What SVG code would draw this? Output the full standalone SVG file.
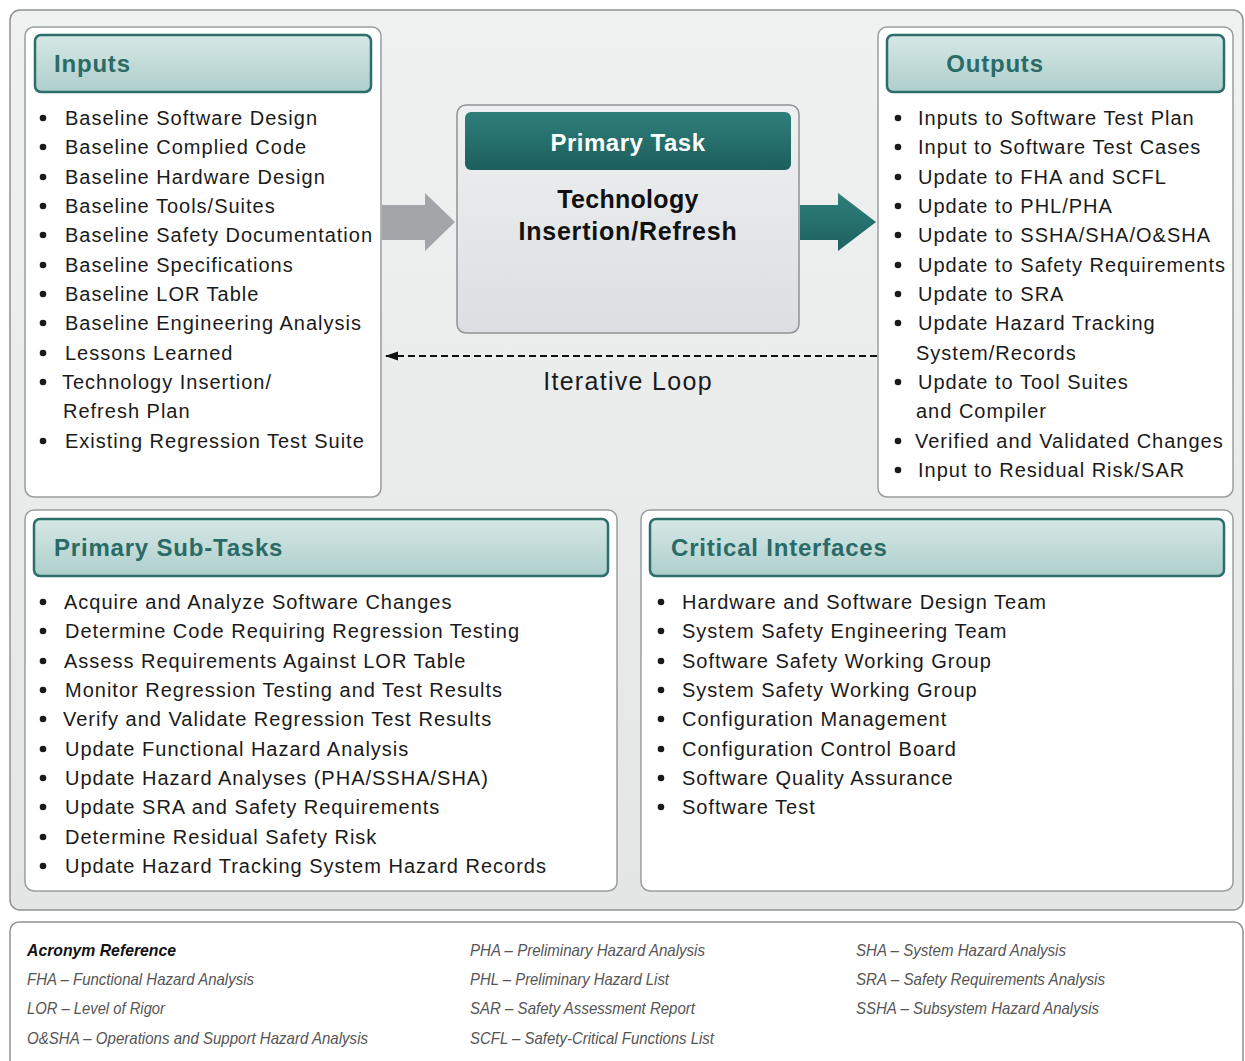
<svg xmlns="http://www.w3.org/2000/svg" width="1245" height="1061" viewBox="0 0 1245 1061">
<defs>
<linearGradient id="hdr" x1="0" y1="0" x2="0" y2="1">
<stop offset="0" stop-color="#d6e8e6"/>
<stop offset="0.5" stop-color="#c2dbd9"/>
<stop offset="1" stop-color="#aecfcc"/>
</linearGradient>
<linearGradient id="task" x1="0" y1="0" x2="0" y2="1">
<stop offset="0" stop-color="#2f7f7b"/>
<stop offset="1" stop-color="#1c5f5c"/>
</linearGradient>
<linearGradient id="taskbody" x1="0" y1="0" x2="0" y2="1">
<stop offset="0" stop-color="#eef0f1"/>
<stop offset="1" stop-color="#dcdfe1"/>
</linearGradient>
<linearGradient id="bg" x1="0" y1="0" x2="0" y2="1">
<stop offset="0" stop-color="#f0f1f1"/>
<stop offset="1" stop-color="#e4e6e6"/>
</linearGradient>
<linearGradient id="tealarrow" x1="0" y1="0" x2="0" y2="1">
<stop offset="0" stop-color="#2f7f7b"/>
<stop offset="1" stop-color="#1d615e"/>
</linearGradient>
<marker id="ah" markerWidth="14" markerHeight="12" refX="12" refY="6" orient="auto" markerUnits="userSpaceOnUse">
<path d="M0,1.5 L13,6 L0,10.5 Z" fill="#111"/>
</marker>
</defs>
<style>
.panel{fill:#ffffff;stroke:#9a9d9f;stroke-width:1.5}
.hdr{fill:url(#hdr);stroke:#2c6e6a;stroke-width:2.5}
.htxt{font-family:"Liberation Sans",Arial,sans-serif;font-weight:bold;font-size:24px;fill:#2a6b67;letter-spacing:0.8px}
.item{font-family:"Liberation Sans",Arial,sans-serif;font-size:20px;fill:#1a1a1a;letter-spacing:1px}
.bul{fill:#1a1a1a}
.acr{font-family:"Liberation Sans",Arial,sans-serif;font-style:italic;font-size:17px;fill:#555}
.acrb{font-family:"Liberation Sans",Arial,sans-serif;font-style:italic;font-weight:bold;font-size:17px;fill:#111}
</style>
<rect width="1245" height="1061" fill="#ffffff"/>
<rect id="background" x="10" y="10" width="1233" height="900" rx="10" fill="url(#bg)" stroke="#8f9294" stroke-width="1.5"/>

<g id="inputs">
<rect class="panel" x="25" y="27" width="356" height="470" rx="9"/>
<rect class="hdr" x="35" y="35" width="336" height="57" rx="6"/>
<text class="htxt" x="54" y="72">Inputs</text>
<g class="item">
<text x="65" y="125">Baseline Software Design</text>
<text x="65" y="154">Baseline Complied Code</text>
<text x="65" y="184">Baseline Hardware Design</text>
<text x="65" y="213">Baseline Tools/Suites</text>
<text x="65" y="242">Baseline Safety Documentation</text>
<text x="65" y="272">Baseline Specifications</text>
<text x="65" y="301">Baseline LOR Table</text>
<text x="65" y="330">Baseline Engineering Analysis</text>
<text x="65" y="360">Lessons Learned</text>
<text x="62" y="389">Technology Insertion/</text>
<text x="63" y="418">Refresh Plan</text>
<text x="65" y="448">Existing Regression Test Suite</text>
</g>
<g class="bul">
<circle cx="43" cy="118" r="3.3"/><circle cx="43" cy="147" r="3.3"/><circle cx="43" cy="177" r="3.3"/><circle cx="43" cy="206" r="3.3"/><circle cx="43" cy="235" r="3.3"/><circle cx="43" cy="265" r="3.3"/><circle cx="43" cy="294" r="3.3"/><circle cx="43" cy="323" r="3.3"/><circle cx="43" cy="353" r="3.3"/><circle cx="43" cy="382" r="3.3"/><circle cx="43" cy="441" r="3.3"/>
</g>
</g>

<g id="primary-task">
<rect x="457" y="105" width="342" height="228" rx="9" fill="url(#taskbody)" stroke="#8f9294" stroke-width="1.5"/>
<rect x="465" y="112" width="326" height="58" rx="6" fill="url(#task)"/>
<text x="628" y="151" text-anchor="middle" font-family="'Liberation Sans',Arial,sans-serif" font-weight="bold" font-size="24" letter-spacing="0.5" fill="#ffffff">Primary Task</text>
<text x="628" y="208" text-anchor="middle" font-family="'Liberation Sans',Arial,sans-serif" font-weight="bold" font-size="25" letter-spacing="0.3" fill="#111">Technology</text>
<text x="628" y="240" text-anchor="middle" font-family="'Liberation Sans',Arial,sans-serif" font-weight="bold" font-size="25" letter-spacing="0.8" fill="#111">Insertion/Refresh</text>
</g>

<g id="outputs">
<rect class="panel" x="878" y="27" width="355" height="470" rx="9"/>
<rect class="hdr" x="887" y="35" width="337" height="57" rx="6"/>
<text class="htxt" x="995" y="72" text-anchor="middle">Outputs</text>
<g class="item">
<text x="918" y="125">Inputs to Software Test Plan</text>
<text x="918" y="154">Input to Software Test Cases</text>
<text x="918" y="184">Update to FHA and SCFL</text>
<text x="918" y="213">Update to PHL/PHA</text>
<text x="918" y="242">Update to SSHA/SHA/O&amp;SHA</text>
<text x="918" y="272">Update to Safety Requirements</text>
<text x="918" y="301">Update to SRA</text>
<text x="918" y="330">Update Hazard Tracking</text>
<text x="916" y="360">System/Records</text>
<text x="918" y="389">Update to Tool Suites</text>
<text x="916" y="418">and Compiler</text>
<text x="915" y="448">Verified and Validated Changes</text>
<text x="918" y="477">Input to Residual Risk/SAR</text>
</g>
<g class="bul">
<circle cx="898" cy="118" r="3.3"/><circle cx="898" cy="147" r="3.3"/><circle cx="898" cy="177" r="3.3"/><circle cx="898" cy="206" r="3.3"/><circle cx="898" cy="235" r="3.3"/><circle cx="898" cy="265" r="3.3"/><circle cx="898" cy="294" r="3.3"/><circle cx="898" cy="323" r="3.3"/><circle cx="898" cy="382" r="3.3"/><circle cx="898" cy="441" r="3.3"/><circle cx="898" cy="470" r="3.3"/>
</g>
</g>

<g id="connectors">
<path d="M382,205 L425,205 L425,193 L455,222 L425,251 L425,240 L382,240 Z" fill="#a3a6a8"/>
<path d="M800,205 L838,205 L838,193 L876,222 L838,251 L838,240 L800,240 Z" fill="url(#tealarrow)"/>
<line x1="877" y1="356" x2="386" y2="356" stroke="#111" stroke-width="2" stroke-dasharray="7,4" marker-end="url(#ah)"/>
<text x="628" y="390" text-anchor="middle" font-family="'Liberation Sans',Arial,sans-serif" font-size="25" fill="#1a1a1a" letter-spacing="1.3">Iterative Loop</text>
</g>

<g id="sub-tasks">
<rect class="panel" x="25" y="510" width="592" height="381" rx="9"/>
<rect class="hdr" x="34" y="519" width="574" height="57" rx="6"/>
<text class="htxt" x="54" y="556">Primary Sub-Tasks</text>
<g class="item">
<text x="64" y="609">Acquire and Analyze Software Changes</text>
<text x="65" y="638">Determine Code Requiring Regression Testing</text>
<text x="64" y="668">Assess Requirements Against LOR Table</text>
<text x="65" y="697">Monitor Regression Testing and Test Results</text>
<text x="63" y="726">Verify and Validate Regression Test Results</text>
<text x="65" y="756">Update Functional Hazard Analysis</text>
<text x="65" y="785">Update Hazard Analyses (PHA/SSHA/SHA)</text>
<text x="65" y="814">Update SRA and Safety Requirements</text>
<text x="65" y="844">Determine Residual Safety Risk</text>
<text x="65" y="873">Update Hazard Tracking System Hazard Records</text>
</g>
<g class="bul">
<circle cx="43" cy="602" r="3.3"/><circle cx="43" cy="631" r="3.3"/><circle cx="43" cy="661" r="3.3"/><circle cx="43" cy="690" r="3.3"/><circle cx="43" cy="719" r="3.3"/><circle cx="43" cy="749" r="3.3"/><circle cx="43" cy="778" r="3.3"/><circle cx="43" cy="807" r="3.3"/><circle cx="43" cy="837" r="3.3"/><circle cx="43" cy="866" r="3.3"/>
</g>
</g>

<g id="critical-interfaces">
<rect class="panel" x="641" y="510" width="592" height="381" rx="9"/>
<rect class="hdr" x="650" y="519" width="574" height="57" rx="6"/>
<text class="htxt" x="671" y="556">Critical Interfaces</text>
<g class="item">
<text x="682" y="609">Hardware and Software Design Team</text>
<text x="682" y="638">System Safety Engineering Team</text>
<text x="682" y="668">Software Safety Working Group</text>
<text x="682" y="697">System Safety Working Group</text>
<text x="682" y="726">Configuration Management</text>
<text x="682" y="756">Configuration Control Board</text>
<text x="682" y="785">Software Quality Assurance</text>
<text x="682" y="814">Software Test</text>
</g>
<g class="bul">
<circle cx="661" cy="602" r="3.3"/><circle cx="661" cy="631" r="3.3"/><circle cx="661" cy="661" r="3.3"/><circle cx="661" cy="690" r="3.3"/><circle cx="661" cy="719" r="3.3"/><circle cx="661" cy="749" r="3.3"/><circle cx="661" cy="778" r="3.3"/><circle cx="661" cy="807" r="3.3"/>
</g>
</g>

<g id="acronyms">
<rect x="10" y="922" width="1233" height="150" rx="9" fill="#ffffff" stroke="#8f9294" stroke-width="1.5"/>
<text class="acrb" x="27" y="956" textLength="149" lengthAdjust="spacingAndGlyphs">Acronym Reference</text>
<text class="acr" x="27" y="985" textLength="227" lengthAdjust="spacingAndGlyphs">FHA – Functional Hazard Analysis</text>
<text class="acr" x="27" y="1014" textLength="138" lengthAdjust="spacingAndGlyphs">LOR – Level of Rigor</text>
<text class="acr" x="27" y="1044" textLength="341" lengthAdjust="spacingAndGlyphs">O&amp;SHA – Operations and Support Hazard Analysis</text>
<text class="acr" x="470" y="956" textLength="235" lengthAdjust="spacingAndGlyphs">PHA – Preliminary Hazard Analysis</text>
<text class="acr" x="470" y="985" textLength="199" lengthAdjust="spacingAndGlyphs">PHL – Preliminary Hazard List</text>
<text class="acr" x="470" y="1014" textLength="225" lengthAdjust="spacingAndGlyphs">SAR – Safety Assessment Report</text>
<text class="acr" x="470" y="1044" textLength="244" lengthAdjust="spacingAndGlyphs">SCFL – Safety-Critical Functions List</text>
<text class="acr" x="856" y="956" textLength="210" lengthAdjust="spacingAndGlyphs">SHA – System Hazard Analysis</text>
<text class="acr" x="856" y="985" textLength="249" lengthAdjust="spacingAndGlyphs">SRA – Safety Requirements Analysis</text>
<text class="acr" x="856" y="1014" textLength="243" lengthAdjust="spacingAndGlyphs">SSHA – Subsystem Hazard Analysis</text>
</g>
</svg>
